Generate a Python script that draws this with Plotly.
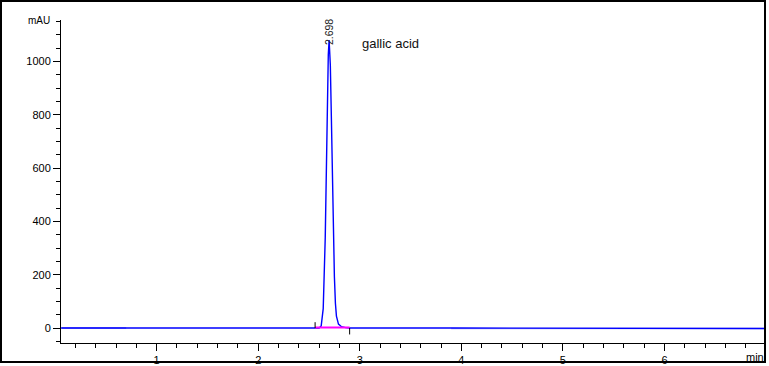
import plotly.graph_objects as go

# Chromatogram signal (min, mAU)
time_min = [0.06, 0.70, 1.50, 2.40, 2.56, 2.60, 2.62, 2.64, 2.66, 2.67, 2.68, 2.69,
            2.698, 2.71, 2.72, 2.73, 2.74, 2.75, 2.76, 2.77, 2.79, 2.82, 2.86,
            2.90, 3.90, 5.00, 6.00, 7.00]
signal_mau = [0, 0, 0, 0, 0, 0.5, 8, 73, 340, 577, 834, 1026,
              1080, 985, 793, 562, 351, 193, 93, 45, 15, 5, 1.5,
              0.5, 0, -1.5, -1.5, -1.5]

# Light overlay segments of the baseline
noise_t1 = [0.06, 0.70]
noise_v1 = [0.5, 0.5]
noise_t2 = [3.90, 7.00]
noise_v2 = [-2.0, -2.0]

# Integration baseline and peak delimiters
peak_rt = 2.698
peak_label = "2.698"
peak_height = 1080
base_t = [2.56, 2.90]
base_v = [2.5, 2.5]
start_tick_t = [2.56, 2.56]
start_tick_v = [0, 22]
end_tick_t = [2.90, 2.90]
end_tick_v = [0, -24]

compound = "gallic acid"
x_ticks = [1, 2, 3, 4, 5, 6]
y_ticks = [0, 200, 400, 600, 800, 1000]

x_range = [0.058, 6.99]
y_range = [-56, 1155]

fig = go.Figure()
fig.add_trace(go.Scatter(x=noise_t1, y=noise_v1, mode="lines",
                         line=dict(color="rgba(120,120,240,0.7)", width=2), hoverinfo="skip"))
fig.add_trace(go.Scatter(x=noise_t2, y=noise_v2, mode="lines",
                         line=dict(color="rgba(120,120,240,0.6)", width=1.5), hoverinfo="skip"))
fig.add_trace(go.Scatter(x=time_min, y=signal_mau, mode="lines",
                         line=dict(color="#0000ff", width=1.4)))
fig.add_trace(go.Scatter(x=base_t, y=base_v, mode="lines",
                         line=dict(color="#ff00ff", width=2)))
fig.add_trace(go.Scatter(x=start_tick_t, y=start_tick_v, mode="lines",
                         line=dict(color="black", width=1)))
fig.add_trace(go.Scatter(x=end_tick_t, y=end_tick_v, mode="lines",
                         line=dict(color="black", width=1)))

font = "Liberation Sans, Arial, sans-serif"

fig.update_layout(
    width=769, height=366,
    margin=dict(l=61, r=4, t=20, b=23),
    paper_bgcolor="white", plot_bgcolor="white",
    showlegend=False,
    font=dict(family=font, size=11, color="black"),
    xaxis=dict(range=x_range, tickvals=x_ticks, ticks="outside", ticklen=7,
               tickcolor="black", showline=True, linecolor="black", linewidth=1,
               showgrid=False, zeroline=False, automargin=False,
               minor=dict(dtick=0.2, tick0=0, ticks="outside", ticklen=4, tickcolor="black"),
               tickfont=dict(size=11, family=font)),
    yaxis=dict(range=y_range, tickvals=y_ticks, ticks="outside", ticklen=7,
               tickcolor="black", showline=True, linecolor="black", linewidth=1,
               showgrid=False, zeroline=False, automargin=False,
               minor=dict(dtick=50, tick0=0, ticks="outside", ticklen=4, tickcolor="black"),
               tickfont=dict(size=11, family=font)),
)

fig.add_annotation(x=peak_rt, y=peak_height, text=peak_label, textangle=-90,
                   showarrow=False, xanchor="center", yanchor="bottom", yshift=-7,
                   font=dict(size=10.5, family=font, color="#222"))
fig.add_annotation(x=3.0, y=peak_height, text=compound, showarrow=False,
                   xanchor="left", yanchor="middle", yshift=-3,
                   font=dict(size=13, family=font, color="#111"))
fig.add_annotation(x=x_range[0], y=y_range[1], text="mAU",
                   showarrow=False, xanchor="right", yanchor="middle", xshift=-9,
                   font=dict(size=10, family=font, color="black"))
fig.add_annotation(x=x_range[1], y=y_range[0], text="min",
                   showarrow=False, xanchor="right", yanchor="middle",
                   xshift=1, yshift=-14,
                   font=dict(size=11, family=font, color="black"))

# outer frame
fig.add_shape(type="rect", xref="paper", yref="paper",
              x0=-60 / 704, x1=1.0, y0=-19 / 323, y1=342 / 323,
              line=dict(color="black", width=2), layer="above")

fig.write_html("out.html")
